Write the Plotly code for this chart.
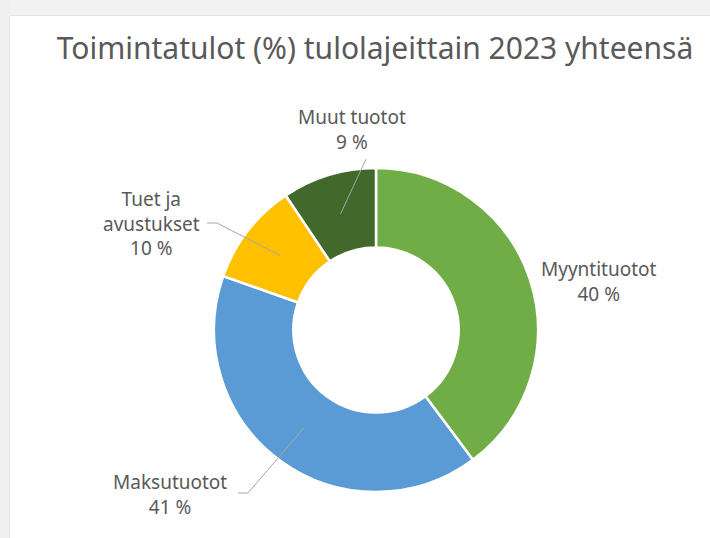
import math
import plotly.graph_objects as go

# data (clockwise from 12 o'clock)
labels = ["Myyntituotot", "Maksutuotot", "Tuet ja<br>avustukset", "Muut tuotot"]
values = [39.8, 40.6, 10.2, 9.4]
colors = ["#70AD47", "#5B9BD5", "#FFC000", "#43682B"]

W, H = 710, 538
CX, CY, R = 376, 330, 162  # donut centre / radius in px

def px(x, y):
    return x / W, 1 - y / H

# label text block centres (px) and where leader lines end (None = no line)
label_pos = [(599, 281), (170, 494), (151, 223), (352, 129)]
line_end = [None, [(248, 493), (238, 493)], [(217, 223), (207, 223)], [(366, 159)]]

fig = go.Figure(go.Pie(
    labels=labels,
    values=values,
    hole=0.51,
    sort=False,
    direction="clockwise",
    rotation=0,
    marker=dict(colors=colors, line=dict(color="white", width=2.5)),
    textinfo="none",
    hoverinfo="label+percent",
    domain=dict(x=[(CX - R) / W, (CX + R) / W], y=[1 - (CY + R) / H, 1 - (CY - R) / H]),
    showlegend=False,
))

# frame: grey strips on top and left like the screenshot
shapes = [
    dict(type="rect", xref="paper", yref="paper", x0=0, x1=1, y0=1 - 16 / H, y1=1,
         fillcolor="#F2F2F2", line_width=0, layer="below"),
    dict(type="rect", xref="paper", yref="paper", x0=0, x1=10 / W, y0=0, y1=1,
         fillcolor="#F0F0F0", line_width=0, layer="below"),
    dict(type="line", xref="paper", yref="paper", x0=10 / W, x1=1, y0=1 - 15.5 / H, y1=1 - 15.5 / H,
         line=dict(color="#E4E4E4", width=1)),
    dict(type="line", xref="paper", yref="paper", x0=9.5 / W, x1=9.5 / W, y0=0, y1=1 - 16 / H,
         line=dict(color="#E6E6E6", width=1)),
]

annotations = []
total = sum(values)
cum = 0
for lab, v, pos, ends in zip(labels, values, label_pos, line_end):
    mid = (cum + v / 2) / total * 2 * math.pi
    cum += v
    pct = f"{round(v / total * 100)} %"
    x, y = px(*pos)
    annotations.append(dict(text=f"{lab}<br>{pct}", x=x, y=y, xref="paper", yref="paper",
                            xanchor="center", yanchor="middle",
                            showarrow=False, align="center",
                            font=dict(family="Noto Sans", size=19, color="#595959")))
    if ends:
        pts = [(CX + 0.75 * R * math.sin(mid), CY - 0.75 * R * math.cos(mid))] + ends
        path = "M " + " L ".join(f"{a / W},{1 - b / H}" for a, b in pts)
        shapes.append(dict(type="path", xref="paper", yref="paper", path=path,
                           line=dict(color="#A6A6A6", width=1)))

fig.update_layout(
    width=W, height=H,
    margin=dict(l=0, r=0, t=0, b=0),
    paper_bgcolor="white",
    plot_bgcolor="white",
    title=dict(text="Toimintatulot (%) tulolajeittain 2023 yhteensä",
               x=375 / W, xanchor="center", y=1 - 48 / H, yanchor="middle",
               font=dict(family="Noto Sans", size=30, color="#595959")),
    shapes=shapes,
    annotations=annotations,
)

fig.write_html("out.html", config={"displayModeBar": False},
               post_script="document.body.style.margin='0';")
